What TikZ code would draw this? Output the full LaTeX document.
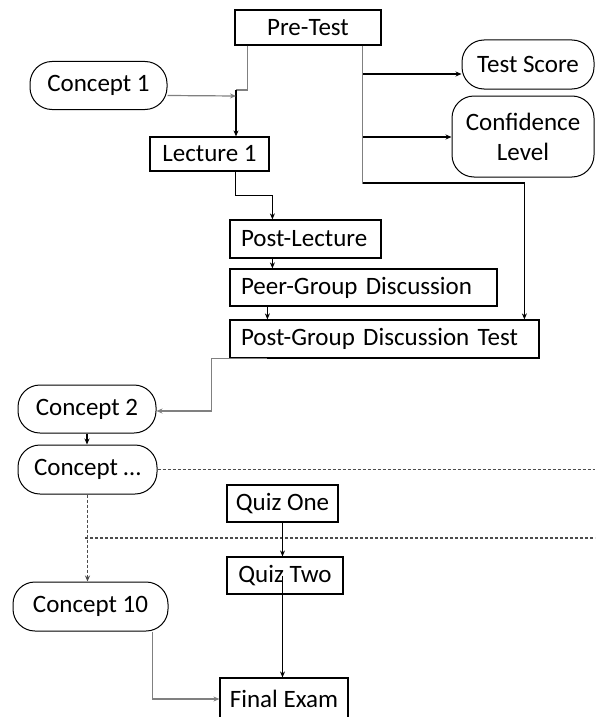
\documentclass[tikz,border=0pt]{standalone}
\usepackage{fontspec}
\setmainfont{Carlito}
\usetikzlibrary{arrows.meta}
\begin{document}
\begin{tikzpicture}[x=1pt,y=-1pt,
  txt/.style={font=\fontsize{25}{30}\selectfont, text=black},
  box/.style={txt, draw, line width=1.2pt, rectangle, inner sep=0pt, align=center},
  lbox/.style={txt, draw, line width=1.2pt, rectangle, inner xsep=11pt, inner ysep=0pt, align=left},
  pill/.style={txt, draw, line width=1pt, rounded corners=22pt, inner sep=0pt, align=center},
  con/.style={line width=1.2pt, -{Stealth[length=6pt,width=5pt]}},
  gcon/.style={con, draw=black!50},
  gline/.style={line width=1.3pt, draw=black!50},
  dline/.style={line width=1.1pt, draw=black!70, dash pattern=on 3pt off 2pt},
  dcon/.style={dline, -{Stealth[length=6pt,width=5pt]}}]
\useasboundingbox (0,0) rectangle (595,717);
\fill[white] (0,0) rectangle (595,717);

% nodes
\node[box, minimum width=146, minimum height=35] (pre) at (308,27.5) {Pre-Test};
\node[pill, minimum width=137, minimum height=48] (c1) at (98.5,85.5) {Concept 1};
\node[pill, minimum width=132, minimum height=49] (ts) at (528,64.5) {Test Score};
\node[pill, minimum width=142, minimum height=81] (cl) at (523,136.5) {Confidence\\Level};
\node[box, minimum width=119, minimum height=34] (lec) at (209.5,154) {Lecture 1};
\node[lbox, text width=129, minimum height=38] (pl) at (305.5,239) {Post-Lecture};
\node[lbox, text width=245, minimum height=37] (pg) at (363.5,287.5) {Peer-Group Discussion};
\node[lbox, text width=287, minimum height=38] (pgt) at (384.5,339) {Post-Group Discussion Test};
\node[pill, minimum width=138, minimum height=48] (c2) at (87,409) {Concept 2};
\node[pill, minimum width=139, minimum height=49] (cd) at (87.5,469.5) {Concept \dots};
\node[box, minimum width=111, minimum height=37] (q1) at (282.5,503.5) {Quiz One};
\node[box, minimum width=116, minimum height=37] (q2) at (285,575.5) {Quiz Two};
\node[pill, minimum width=155, minimum height=49] (c10) at (90.5,606.5) {Concept 10};
\node[box, minimum width=128, minimum height=42] (fe) at (284,699) {Final Exam};

% helper coordinates
\coordinate (j1) at (236,90);
\coordinate (jc) at (236,96);
\coordinate (jr) at (363,183);
\coordinate (r1) at (363,74);
\coordinate (r2) at (363,137);
\coordinate (re) at (595,0);
\coordinate (d2) at (85,538);

% connectors
\draw[gline] ([xshift=13pt]pre.south west) |- (j1);
\draw[con] (j1) -- (j1 |- lec.north);
\draw[gcon] ([yshift=-10pt]c1.east) -- (jc);
\draw[con] ([xshift=86pt]lec.south west) -- ++(0,24) -| ([xshift=43pt]pl.north west);
\draw[con] ([xshift=43pt]pl.south west) -- ([xshift=43pt]pg.north west);
\draw[con] ([xshift=38pt]pg.south west) -- ([xshift=38pt]pgt.north west);

\draw[gline] ([xshift=128pt]pre.south west) |- (jr);
\draw[con] (r1) -- (r1 -| ts.west);
\draw[con] (r2) -- (r2 -| cl.west);
\draw[con] (jr) -| ([xshift=295pt]pgt.north west);

\draw[gcon] ([xshift=38pt]pgt.south west) -- ++(-56,0) |- ([yshift=-2pt]c2.east);
\draw[con] (c2.south) -- (c2.south |- cd.north);
\draw[dline] (cd.east) -- (cd.east -| re);
\draw[dcon] (cd.south) -- (cd.south |- c10.north);
\draw[dline] (d2) -- (d2 -| re);

\draw[con] (q1.south) -- (q1.south |- q2.north);
\draw[con] (q2.center -| q1.south) -- (q1.south |- fe.north);
\draw[gcon] ([xshift=140pt]c10.south west) |- (fe.west);
\end{tikzpicture}
\end{document}
